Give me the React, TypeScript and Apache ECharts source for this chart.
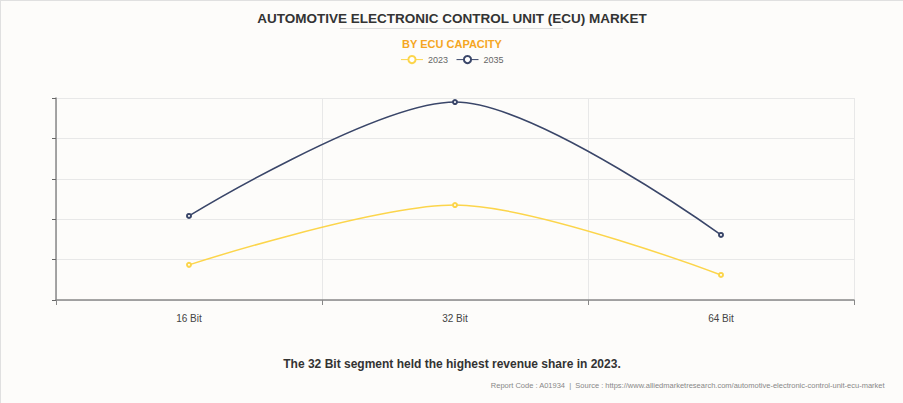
import React, { useEffect, useRef } from "react";
import * as echarts from "echarts";

const categories = ["16 Bit", "32 Bit", "64 Bit"];
const series2023 = [8.7, 23.5, 6.2];
const series2035 = [20.8, 49.0, 16.1];
const seriesNames = ["2023", "2035"];

export default function App() {
  const ref = useRef<HTMLDivElement>(null);
  useEffect(() => {
    document.body.style.margin = "0";
    const chart = echarts.init(ref.current!, null, { renderer: "svg" });
    const font = "Liberation Sans, Arial, sans-serif";
    chart.setOption({
      animation: false,
      backgroundColor: "#fdfcfa",
      textStyle: { fontFamily: font },
      title: [
        {
          text: "AUTOMOTIVE ELECTRONIC CONTROL UNIT (ECU) MARKET",
          left: "center",
          top: 5,
          textStyle: { fontSize: 13.5, fontWeight: "bold", color: "#333333", fontFamily: font },
        },
        {
          text: "BY ECU CAPACITY",
          left: "center",
          top: 32,
          textStyle: { fontSize: 11, fontWeight: "bold", color: "#f5a623", fontFamily: font },
        },
        {
          text: "The 32 Bit segment held the highest revenue share in 2023.",
          left: "center",
          top: 352,
          textStyle: { fontSize: 12, fontWeight: "bold", color: "#333333", fontFamily: font },
        },
        {
          text: "Report Code : A01934  |  Source : https://www.alliedmarketresearch.com/automotive-electronic-control-unit-ecu-market",
          right: 13,
          top: 375,
          textStyle: { fontSize: 7.5, fontWeight: "normal", color: "#888888", fontFamily: font },
        },
      ],
      graphic: [
        {
          type: "line",
          shape: { x1: 339, y1: 27.5, x2: 562, y2: 27.5 },
          style: { stroke: "#dddddd", lineWidth: 1 },
        },
      ],
      legend: {
        top: 49,
        left: "center",
        itemWidth: 22,
        itemHeight: 9,
        itemGap: 8,
        data: seriesNames,
        lineStyle: { width: 1 },
        itemStyle: { borderWidth: 1 },
        textStyle: { fontSize: 9, color: "#666666", fontFamily: font },
      },
      grid: { left: 55, right: 49, top: 97, bottom: 103, containLabel: false },
      xAxis: {
        type: "category",
        data: categories,
        boundaryGap: true,
        axisLine: { show: true, lineStyle: { color: "#888888", width: 1.5 } },
        axisTick: { show: true, length: 5, lineStyle: { color: "#888888" } },
        axisLabel: { color: "#444444", fontSize: 10, margin: 13, fontFamily: font },
        splitLine: { show: true, lineStyle: { color: "#e8e8e8" } },
      },
      yAxis: {
        type: "value",
        min: 0,
        max: 50,
        interval: 10,
        axisLine: { show: true, lineStyle: { color: "#888888", width: 1.5 } },
        axisTick: { show: true, length: 4, lineStyle: { color: "#666666" } },
        axisLabel: { show: false },
        splitLine: { show: true, lineStyle: { color: "#e8e8e8" } },
      },
      series: [
        {
          name: seriesNames[0],
          type: "line",
          smooth: 0.3,
          data: series2023,
          color: "#fcd54b",
          symbol: "emptyCircle",
          symbolSize: 4,
          lineStyle: { width: 1.5, color: "#fcd54b" },
          itemStyle: { color: "#fcd54b", borderWidth: 1 },
        },
        {
          name: seriesNames[1],
          type: "line",
          smooth: 0.3,
          data: series2035,
          color: "#3a4669",
          symbol: "emptyCircle",
          symbolSize: 4,
          lineStyle: { width: 1.5, color: "#3a4669" },
          itemStyle: { color: "#3a4669", borderWidth: 1 },
        },
      ],
    });
    return () => chart.dispose();
  }, []);
  return (
    <div
      style={{
        position: "absolute",
        left: 0,
        top: 0,
        width: 903,
        height: 403,
        boxSizing: "border-box",
        borderTop: "1px solid #e0e0e0",
        borderLeft: "1px solid #e0e0e0",
      }}
    >
      <div ref={ref} style={{ width: 902, height: 402 }} />
    </div>
  );
}
